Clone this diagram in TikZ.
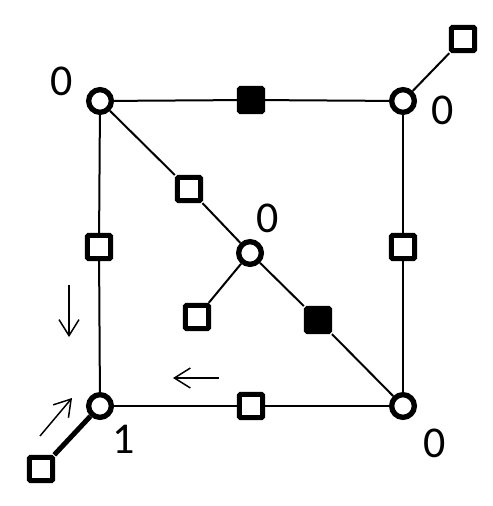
\documentclass[tikz,border=0pt]{standalone}
\usepackage{fontspec}
\setmainfont{Carlito}
\usetikzlibrary{arrows.meta}
\begin{document}
\begin{tikzpicture}[x=0.75pt,y=-0.75pt,
  vert/.style={circle,draw,line width=4pt,minimum size=17pt,inner sep=0pt,fill=white},
  esq/.style={rectangle,draw,line width=3.75pt,minimum size=17.5pt,inner sep=0pt,fill=white,rounded corners=1pt},
  fsq/.style={esq,fill=black},
  edge/.style={line width=1.5pt},
  thick edge/.style={line width=3.75pt},
  lbl/.style={font=\fontsize{33}{33}\selectfont,inner sep=0pt},
  mv/.style={line width=1.1pt,-{Straight Barb[length=12pt,width=15pt,line width=1.1pt]}}]
\useasboundingbox (0,0) rectangle (492,506);
% vertices
\node[vert] (tl) at (100,101) {};
\node[vert] (tr) at (403,101) {};
\node[vert] (bl) at (100,406) {};
\node[vert] (br) at (403,406) {};
\node[vert] (c)  at (250,253) {};
% squares
\node[fsq] (top) at (251,100) {};
\node[fsq] (dbr) at (318,320) {};
\node[esq] (dtl) at (189,189) {};
\node[esq] (left) at (99,247) {};
\node[esq] (right) at (403,247) {};
\node[esq] (bot) at (251,406) {};
\node[esq] (ur) at (463,39) {};
\node[esq] (cl) at (197,317) {};
\node[esq] (ll) at (41,469) {};
% edges
\draw[edge] (tl) -- (top) -- (tr);
\draw[edge] (tl) -- (left) -- (bl);
\draw[edge] (tr) -- (right) -- (br);
\draw[edge] (bl) -- (bot) -- (br);
\draw[edge] (tl) -- (dtl) -- (c) -- (dbr) -- (br);
\draw[edge] (c) -- (cl);
\draw[edge] (tr) -- (ur);
\draw[thick edge] (bl) -- (ll);
% labels
\node[lbl] (l1) at (62,81) {0};
\node[lbl] (l2) at (443,110) {0};
\node[lbl] (l3) at (268,218) {0};
\node[lbl] (l4) at (124,439) {1};
\node[lbl] (l5) at (435,443) {0};
% arrows
\coordinate (a1s) at (69,285);
\coordinate (a1e) at (69,337);
\coordinate (a2s) at (219,378);
\coordinate (a2e) at (173,378);
\coordinate (a3s) at (40,436);
\coordinate (a3e) at (72,398);
\draw[mv] (a1s) -- (a1e);
\draw[mv] (a2s) -- (a2e);
\draw[mv] (a3s) -- (a3e);
\end{tikzpicture}
\end{document}
